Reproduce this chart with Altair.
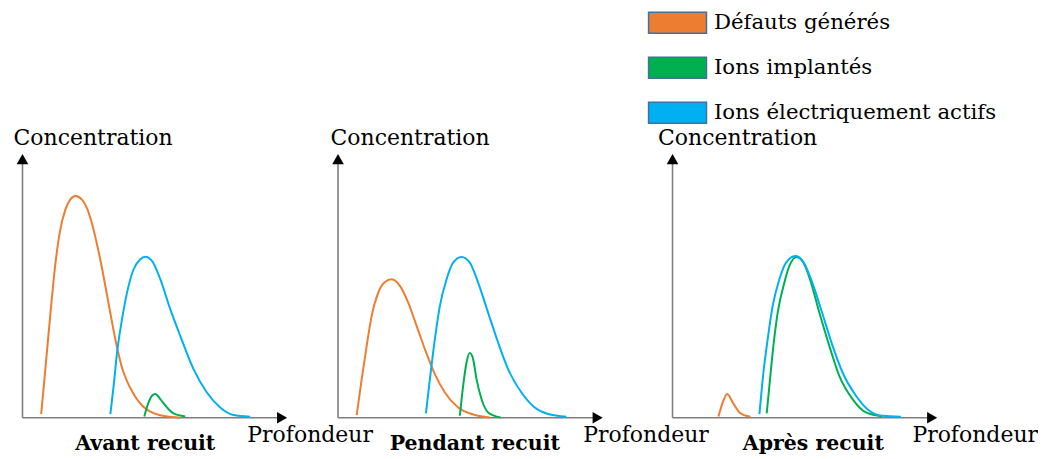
import altair as alt
import pandas as pd

SERIES = ["Défauts générés", "Ions implantés", "Ions électriquement actifs"]
COLORS = ["#ED7D31", "#00B050", "#00B0F0"]
PANEL_TITLES = ["Avant recuit", "Pendant recuit", "Après recuit"]
X_TITLE = "Profondeur"
Y_TITLE = "Concentration"

# ---- Panel 1 : Avant recuit ----
p1_def_x = [18.7, 22, 25.3, 28.7, 32.7, 37.3, 43, 48, 53, 60, 65, 70, 75, 80, 85, 90, 95, 100, 105, 110, 115, 120, 128, 138, 150, 158]
p1_def_y = [3.7, 38.7, 75.3, 112, 152, 185.3, 208.7, 218.7, 222, 218, 209, 193, 172, 148, 121, 94, 69, 49, 36, 26, 18, 12, 6, 2.5, 0.8, 0]
p1_imp_x = [122, 126.3, 129.7, 133, 138, 144.7, 151.3, 163]
p1_imp_y = [1.3, 15.3, 22, 23.7, 18.7, 10.3, 4.3, 1.3]
p1_act_x = [88, 91.3, 94.7, 99.7, 104.7, 111.3, 118, 123, 129.7, 138, 148, 158, 171.3, 184.7, 198, 211.3, 228]
p1_act_y = [3.7, 32, 65.3, 98.7, 125.3, 148.7, 158.7, 161.3, 157, 138.7, 108.7, 82, 48.7, 25.3, 10.3, 2.7, 1]

# ---- Panel 2 : Pendant recuit ----
p2_def_x = [18.7, 23.7, 28.7, 33.7, 40.3, 47, 53.7, 62, 70.3, 78.7, 87, 97, 107, 120.3, 133.7, 152]
p2_def_y = [2.7, 38.7, 72, 102, 125.3, 136, 138.7, 132, 115.3, 92, 68.7, 43.7, 25.3, 10.3, 3.7, 0.3]
p2_imp_x = [122, 125.3, 128.7, 132, 135.3, 138.7, 143.7, 150.3, 162.7]
p2_imp_y = [2, 32, 55.3, 64.7, 58.7, 38.7, 18.7, 5.3, 0.3]
p2_act_x = [88, 92, 97, 102, 108.7, 115.3, 123.7, 132, 140.3, 150.3, 160.3, 170.3, 183.7, 197, 210.3, 228.7]
p2_act_y = [4.3, 38.7, 78.7, 112, 138.7, 155.3, 161, 155.3, 135.3, 105.3, 75.3, 48.7, 25.3, 10.3, 3.7, 1]

# ---- Panel 3 : Après recuit ----
p3_def_x = [46, 50.3, 54.7, 60.3, 67, 78]
p3_def_y = [1.3, 15.3, 23.7, 15.3, 5.3, 1]
p3_imp_x = [94.3, 97, 101, 105.3, 112, 117, 124.3, 132, 138.7, 147, 157, 167, 180.3, 193.7, 210.3]
p3_imp_y = [4.3, 32, 72, 105.3, 135.3, 152, 161, 153.7, 135.3, 105.3, 72, 42, 18.7, 5.3, 1.3]
p3_act_x = [87, 90.3, 95.3, 100.3, 107, 113.7, 123, 130.3, 138.7, 148.7, 160.3, 170.3, 183.7, 197, 210.3, 228.7]
p3_act_y = [3.7, 38.7, 78.7, 112, 138.7, 155.3, 162, 157, 138.7, 108.7, 72, 45.3, 22, 7, 2, 1]

PANELS = [
    [(p1_def_x, p1_def_y), (p1_imp_x, p1_imp_y), (p1_act_x, p1_act_y)],
    [(p2_def_x, p2_def_y), (p2_imp_x, p2_imp_y), (p2_act_x, p2_act_y)],
    [(p3_def_x, p3_def_y), (p3_imp_x, p3_imp_y), (p3_act_x, p3_act_y)],
]

# layout / style
AX_W, AX_H = 260, 259            # length of the drawn axes (before arrow heads)
PANEL_W = [316, 335, 260]        # width of each panel's plot area
CONC_DX = [-9.5, -8, -15]
PROF_DX = [224.7, 245, 239.7]
TITLE_DX = [123, 137, 141]
SERIF = "DejaVu Serif"
AXIS_GRAY = "#7f7f7f"


def panel(i, with_legend=False):
    rows = []
    for name, (xs, ys) in zip(SERIES, PANELS[i]):
        for xv, yv in zip(xs, ys):
            rows.append({"series": name, "depth": xv, "conc": yv})
    df = pd.DataFrame(rows)

    X = alt.X(
        "depth:Q",
        scale=alt.Scale(domain=[0, PANEL_W[i]], nice=False, zero=False),
        axis=alt.Axis(
            domain=False, ticks=False, labels=False, grid=False,
            title=X_TITLE, titleX=PROF_DX[i], titleY=23.5,
            titleAlign="left", titleBaseline="alphabetic",
            titleFont=SERIF, titleFontSize=22, titleFontWeight="normal",
            titleColor="black",
        ),
    )
    Y = alt.Y(
        "conc:Q",
        scale=alt.Scale(domain=[0, AX_H], nice=False, zero=False),
        axis=alt.Axis(
            domain=False, ticks=False, labels=False, grid=False,
            title=Y_TITLE, titleX=CONC_DX[i], titleY=-15, titleAngle=0,
            titleAlign="left", titleBaseline="alphabetic",
            titleFont=SERIF, titleFontSize=22, titleFontWeight="normal",
            titleColor="black",
        ),
    )

    lines = alt.Chart(df).mark_line(strokeWidth=2, interpolate="monotone").encode(
        x=X,
        y=Y,
        stroke=alt.Stroke("series:N", scale=alt.Scale(domain=SERIES, range=COLORS), legend=None),
    )

    axes_df = pd.DataFrame({
        "depth": [0, 0], "depth2": [AX_W, 0],
        "conc": [0, 0], "conc2": [0, AX_H],
    })
    axes = alt.Chart(axes_df).mark_rule(color=AXIS_GRAY, strokeWidth=1.6).encode(
        x=X, x2="depth2:Q", y=Y, y2="conc2:Q"
    )

    arrows_df = pd.DataFrame({
        "depth": [AX_W, 0],
        "conc": [0, AX_H],
        "shape": ["triangle-right", "triangle-up"],
    })
    arrows = alt.Chart(arrows_df).mark_point(filled=True, size=135, color="black", opacity=1).encode(
        x=X, y=Y, shape=alt.Shape("shape:N", scale=None)
    )

    layers = [axes, lines, arrows]
    if with_legend:
        leg = alt.Chart(pd.DataFrame({"series": SERIES})).mark_square(opacity=0, size=0).encode(
            fill=alt.Fill(
                "series:N",
                scale=alt.Scale(domain=SERIES, range=COLORS),
                sort=SERIES,
                legend=alt.Legend(
                    title=None, orient="none", legendX=-6.5, legendY=-148,
                    symbolType="M-2.762,-1L2.762,-1L2.762,1L-2.762,1Z",
                    symbolSize=441, symbolStrokeColor="#41719C",
                    symbolStrokeWidth=1.5, symbolOpacity=1,
                    labelFont=SERIF, labelFontSize=21.3, labelColor="black",
                    labelOffset=25, labelLimit=0, rowPadding=18,
                    padding=0, offset=0,
                ),
            )
        )
        layers.append(leg)

    return alt.layer(*layers).properties(
        width=PANEL_W[i],
        height=AX_H,
        title=alt.TitleParams(
            text=PANEL_TITLES[i], orient="bottom", anchor="start", align="center",
            frame="group", dx=TITLE_DX[i], dy=5, offset=0,
            font=SERIF, fontSize=20.5, fontWeight="bold",
            color="black", baseline="alphabetic",
        ),
    )


chart = alt.hconcat(
    panel(0), panel(1), panel(2, with_legend=True), spacing=0, bounds="flush"
).resolve_legend(fill="independent").properties(
    padding={"left": 4.5, "top": 3, "right": 0, "bottom": 0},
    background="white",
).configure_view(stroke="transparent", strokeWidth=0)

chart.save("out.html", embed_options={"renderer": "svg", "actions": False})
